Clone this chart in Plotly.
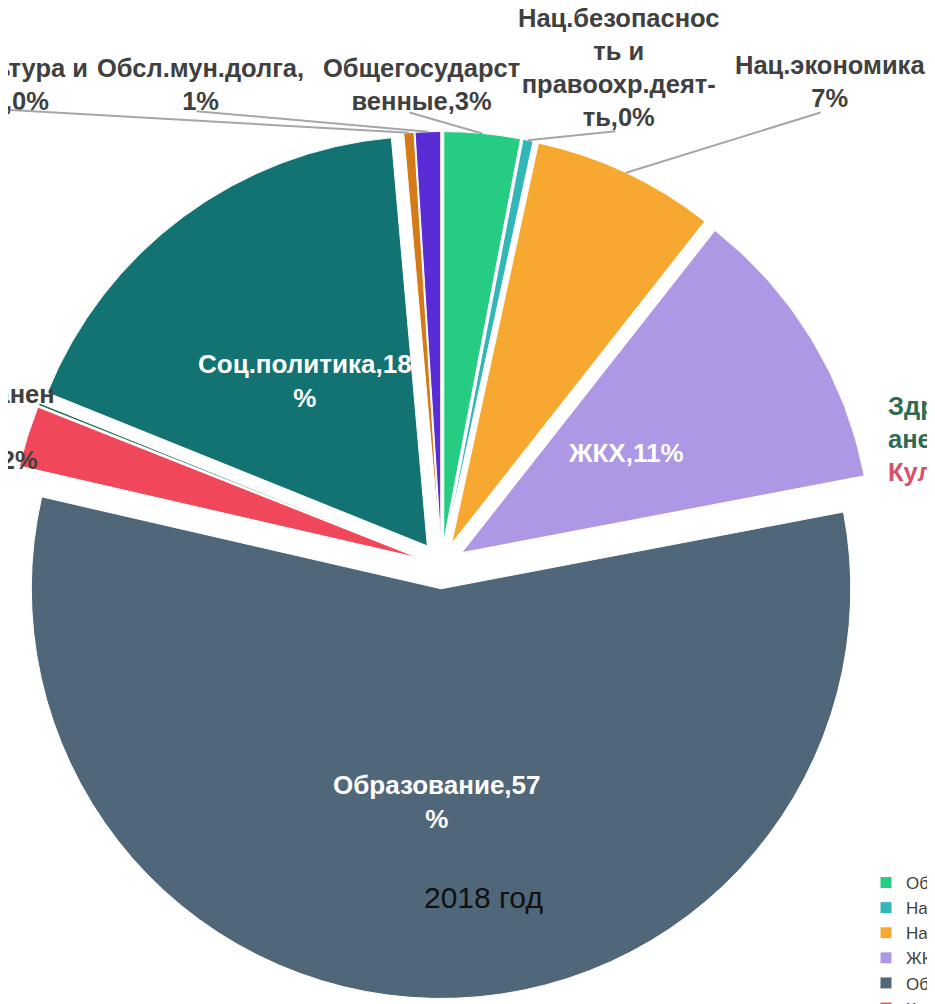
import math
import plotly.graph_objects as go

W, H = 935, 1004
OFF = 8  # the page body adds an 8px margin; positions below are screen pixels

categories = [
    "Общегосударственные", "Нац.безопасность и правоохр.деят-ть", "Нац.экономика",
    "ЖКХ", "Образование", "Культура", "Здравоохранение", "Соц.политика",
    "Физ.культура и спорт", "Обсл.мун.долга",
]
shares = [3.0, 0.4, 7.2, 11.4, 56.6, 2.4, 0.1, 17.5, 0.4, 1.0]
colors = [
    "#27cc83", "#33b6b8", "#f6a831", "#ae97e4", "#506679",
    "#f0475b", "#2e6b52", "#137272", "#d47a18", "#5a2cd6",
]
# label text per slice, {p} = rounded percent
label_fmt = [
    "Общегосударст<br>венные,{p}%", "Нац.безопаснос<br>ть и<br>правоохр.деят-<br>ть,{p}%",
    "Нац.экономика<br>{p}%", "ЖКХ,{p}%", "Образование,{p}<br>%", "Культура,{p}%",
    "Здравоохранен<br>ие,{p}%", "Соц.политика,{p}<br>%", "Физ.культура и<br>спорт,{p}%",
    "Обсл.мун.долга,<br>{p}%",
]

PULL = 0.058
HALF = 433.5
CY_FIG = 557
DOM_X = [0.0, 2 * HALF / W]
DOM_Y = [1 - (CY_FIG + HALF) / H, 1 - (CY_FIG - HALF) / H]

fig = go.Figure()
fig.add_trace(go.Pie(
    labels=categories,
    values=shares,
    sort=False,
    direction="clockwise",
    rotation=0,
    pull=[PULL] * len(shares),
    marker=dict(colors=colors, line=dict(color="white", width=1)),
    textinfo="none",
    hovertemplate="%{label}: %{percent}<extra></extra>",
    domain=dict(x=DOM_X, y=DOM_Y),
))

# pie geometry in figure pixels (margins are zero, so paper == full figure)
box = min((DOM_X[1] - DOM_X[0]) * W, (DOM_Y[1] - DOM_Y[0]) * H)
R = box / (2 + 2 * PULL)
CX = W * (DOM_X[0] + DOM_X[1]) / 2
CY = H * (1 - (DOM_Y[0] + DOM_Y[1]) / 2)
total = sum(shares)
mids = []
acc = 0
for v in shares:
    mids.append(math.radians(360 * (acc + v / 2) / total))
    acc += v


def at(i, k):
    d = R * (PULL + k)
    return CX + d * math.sin(mids[i]), CY - d * math.cos(mids[i])


def paper(x, y, screen=True):
    if screen:
        x, y = x - OFF, y - OFF
    return x / W, 1 - y / H


texts = [f.format(p=round(v)) for f, v in zip(label_fmt, shares)]
FONT = "Liberation Sans"
dark = dict(family=FONT, size=25.5, color="#404040")

# inside labels
for i, k in [(3, 0.47), (4, 0.52), (7, 0.5)]:
    x, y = paper(*at(i, k), screen=False)
    fig.add_annotation(x=x, y=y, xref="paper", yref="paper", text=f"<b>{texts[i]}</b>",
                       xanchor="center", yanchor="middle", showarrow=False,
                       font=dict(family=FONT, size=26, color="white"))

# outside labels: (slice, text centre, leader line start) in screen px
outside = [
    (0, (421, 84), (408, 112)),
    (1, (619, 68), (617, 131)),
    (2, (830, 81), (822, 112)),
    (9, (200, 84), (195, 111)),
    (8, (-9, 84), (9, 110)),
]
for i, (tx, ty), (lx0, ly0) in outside:
    x, y = paper(tx, ty)
    fig.add_annotation(x=x, y=y, xref="paper", yref="paper", text=f"<b>{texts[i]}</b>",
                       xanchor="center", yanchor="middle", showarrow=False, font=dark)
    px, py = at(i, 1.0)
    x, y = paper(px, py, screen=False)
    fig.add_annotation(x=x, y=y, xref="paper", yref="paper", text="",
                       showarrow=True, arrowhead=0, arrowwidth=2, arrowcolor="#a6a6a6",
                       ax=lx0 - OFF - px, ay=ly0 - OFF - py)

# labels on the left edge, mostly outside the frame
x, y = paper(57, 378)
fig.add_annotation(x=x, y=y, xref="paper", yref="paper", text=f"<b>{texts[6]}</b>",
                   showarrow=False, xanchor="right", yanchor="top", font=dark)
x, y = paper(40, 460)
fig.add_annotation(x=x, y=y, xref="paper", yref="paper", text=f"<b>{texts[5]}</b>",
                   showarrow=False, xanchor="right", yanchor="middle", font=dark)

# coloured labels on the right edge
x, y = paper(886, 390)
fig.add_annotation(
    x=x, y=y, xref="paper", yref="paper", xanchor="left", yanchor="top", align="left",
    showarrow=False,
    text="<b><span style='color:#2e6b52'>Здравоохр<br>анение,"
         f"{round(shares[6])}%</span><br>"
         f"<span style='color:#d9506a'>{texts[5]}</span></b>",
    font=dark,
)

x, y = paper(483, 897)
fig.add_annotation(x=x, y=y, xref="paper", yref="paper", text="2018 год", showarrow=False,
                   xanchor="center", yanchor="middle",
                   font=dict(family=FONT, size=30, color="#111111"))

lx, ly = paper(866, 865)
fig.update_layout(
    width=W,
    height=H,
    paper_bgcolor="white",
    plot_bgcolor="white",
    margin=dict(l=0, r=0, t=0, b=0, autoexpand=False),
    showlegend=True,
    legend=dict(
        x=lx, y=ly, xanchor="left", yanchor="top",
        font=dict(family=FONT, size=17, color="#404040"),
        bgcolor="rgba(0,0,0,0)", tracegroupgap=0,
    ),
)

fig.write_html("out.html")
